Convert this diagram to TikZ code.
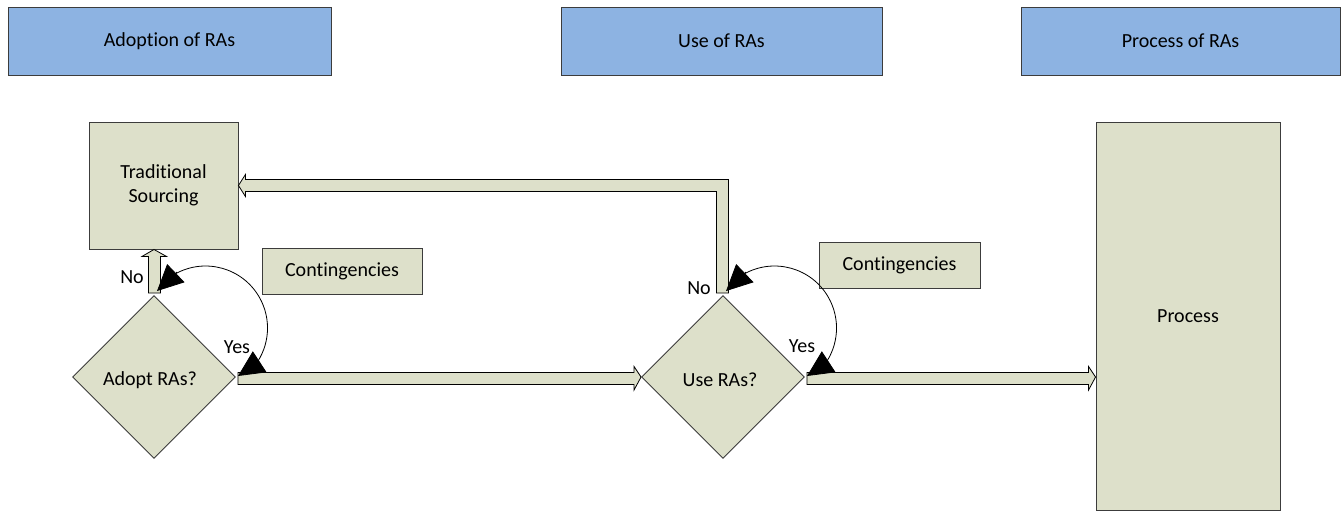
\documentclass[tikz,border=0pt]{standalone}
\usepackage{fontspec}
\setmainfont{Carlito}[Ligatures={NoCommon}]
\usetikzlibrary{shapes.geometric,arrows.meta,calc}
\definecolor{headblue}{RGB}{141,179,226}
\definecolor{boxfill}{RGB}{221,224,202}
\definecolor{edge}{RGB}{60,60,60}
\tikzset{
  every node/.style={font=\fontsize{20}{24}\selectfont, text=black},
  header/.style={draw=edge, fill=headblue, line width=0.9pt, minimum height=68pt, inner sep=0pt},
  stepbox/.style={draw=edge, fill=boxfill, line width=0.9pt, inner sep=0pt, align=center},
  decision/.style={diamond, draw=edge, fill=boxfill, line width=0.9pt, minimum width=163pt, minimum height=163pt, inner sep=0pt},
  hollow/.style={draw=black, fill=boxfill, line width=0.8pt, line join=miter},
  loopline/.style={draw=black, line width=0.8pt},
  loophead/.style={draw=black, line width=0.8pt, -{Triangle[length=26pt,width=25pt]}},
  lbl/.style={inner sep=0pt}
}
\begin{document}
\begin{tikzpicture}[x=1pt,y=1pt]
\useasboundingbox (0,0) rectangle (1343,-512);

% column headers
\node[header, minimum width=323pt] (h1) at (169.5,-41) {Adoption of RAs};
\node[header, minimum width=321pt] (h2) at (721.5,-41) {Use of RAs};
\node[header, minimum width=319pt] (h3) at (1180.5,-41) {Process of RAs};

% process steps
\node[stepbox, minimum width=149pt, minimum height=127pt] (trad) at (163.5,-185.5) {Traditional\\Sourcing};
\node[stepbox, minimum width=184pt, minimum height=388pt] (proc) at (1188,-316) {Process};
\node[stepbox, minimum width=160pt, minimum height=46pt] (c1) at (342,-271) {Contingencies};
\node[stepbox, minimum width=161pt, minimum height=46pt] (c2) at (899.5,-265) {Contingencies};

% decisions
\node[decision] (d1) at (154,-377) {};
\node at (150,-380) {Adopt RAs?};
\node[decision] (d2) at (723,-377) {};
\node at (720,-380) {Use RAs?};

% Yes: adopt -> use
\draw[hollow] ($(d1.east)+(2,4.5)$) -- ($(d2.west)+(-7,4.5)$) -- ($(d2.west)+(-7,10.5)$) -- (d2.west)
  -- ($(d2.west)+(-7,-13)$) -- ($(d2.west)+(-7,-7.5)$) -- ($(d1.east)+(2,-7.5)$) -- cycle;

% Yes: use -> process
\draw[hollow] ($(d2.east)+(2,4.5)$) -- ($(proc.west |- d2.east)+(-7,4.5)$) -- ($(proc.west |- d2.east)+(-7,10.5)$) -- (proc.west |- d2.east)
  -- ($(proc.west |- d2.east)+(-7,-13)$) -- ($(proc.west |- d2.east)+(-7,-7.5)$) -- ($(d2.east)+(2,-7.5)$) -- cycle;

% No: adopt -> traditional sourcing
\coordinate (t1) at (d1.north |- trad.south);
\draw[hollow] ($(d1.north)+(-5.5,2)$) -- ($(t1)+(-5.5,-7)$) -- ($(t1)+(-12,-7)$) -- (t1)
  -- ($(t1)+(12.5,-7)$) -- ($(t1)+(6.5,-7)$) -- ($(d1.north)+(6.5,2)$) -- cycle;

% No: use -> back to traditional sourcing
\coordinate (bend) at (d2.north |- trad.east);
\draw[hollow] ($(d2.north)+(-6.5,2)$) -- ($(bend)+(-6.5,-6)$) -- ($(trad.east)+(7,-6)$) -- ($(trad.east)+(7,-11)$) -- (trad.east)
  -- ($(trad.east)+(7,11)$) -- ($(trad.east)+(7,6)$) -- ($(bend)+(5.5,6)$) -- ($(d2.north)+(5.5,2)$) -- cycle;

% contingency loops: an arc from the top corner round to the right corner,
% with a straight head at each end aimed at the corner
\foreach \d in {d1,d2} {
  \coordinate (\d-ta) at ($(\d.north)+(3,4)$);
  \coordinate (\d-tb) at ($(\d.east)+(2,1)$);
  \coordinate (\d-ba) at ($(\d-ta)+(18,17)$);
  \coordinate (\d-bb) at ($(\d-tb)+(18.5,12)$);
  \draw[loopline] (\d-ba) arc[start angle=119.5, end angle=-37, radius=62];
  \draw[loophead] ($(\d-ba)+(2,2)$) -- (\d-ta);
  \draw[loophead] ($(\d-bb)+(2,1.4)$) -- (\d-tb);
}

% branch labels
\node[lbl] (n1) at (132,-277) {No};
\node[lbl] (y1) at (237,-347) {Yes};
\node[lbl] (n2) at (699,-288) {No};
\node[lbl] (y2) at (802,-346) {Yes};
\end{tikzpicture}
\end{document}
